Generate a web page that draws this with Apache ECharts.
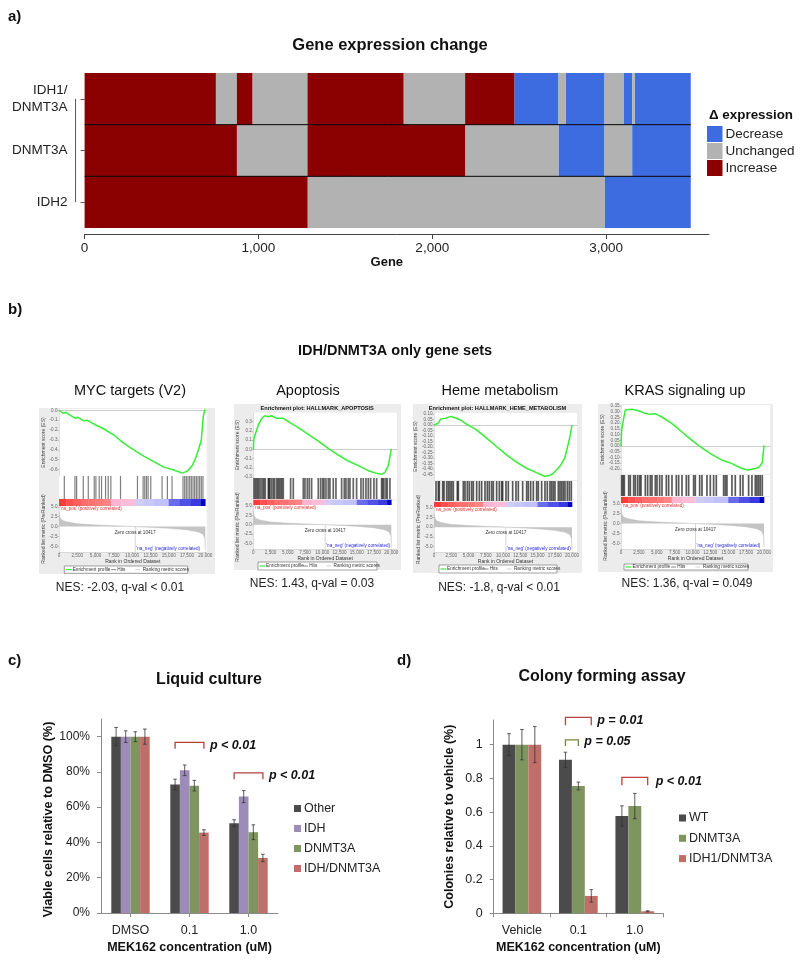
<!DOCTYPE html>
<html><head><meta charset="utf-8">
<style>html,body{margin:0;padding:0;background:#fff}#c{width:800px;height:963px}</style>
<script src="https://cdn.jsdelivr.net/npm/echarts@6/dist/echarts.min.js"></script>
</head><body><div id="c"></div>
<script>
// ---------- a) heat strip ----------
const geneRows = ['IDH1/\nDNMT3A', 'DNMT3A', 'IDH2'];
const geneTicks = [0, 1000, 2000, 3000];
const states = ['Decrease', 'Unchanged', 'Increase'];
const row1Ends = [755, 876, 965, 1280, 1285, 1835, 2189, 2472, 2726, 2767, 2991, 3100, 3150, 3165, 3487];
const row1States = ['Increase','Unchanged','Increase','Unchanged','Decrease','Increase','Unchanged','Increase','Decrease','Unchanged','Decrease','Unchanged','Decrease','Unchanged','Decrease'];
const row2Ends = [876, 1280, 1285, 2189, 2726, 2991, 3150, 3487];
const row2States = ['Increase','Unchanged','Decrease','Increase','Unchanged','Decrease','Unchanged','Decrease'];
const row3Ends = [1283, 2991, 3487];
const row3States = ['Increase','Unchanged','Decrease'];

// ---------- b) GSEA panels ----------
const rankTicks = [0, 2500, 5000, 7500, 10000, 12500, 15000, 17500, 20000];
const rankedRanks = [0, 60, 150, 400, 1000, 2500, 5000, 7500, 10000, 10417, 12500, 15000, 17500, 19000, 19700, 19950, 20000];
const rankedValues = [3.6, 2.8, 2.2, 1.6, 1.2, 0.7, 0.4, 0.2, 0.05, 0, -0.15, -0.4, -0.8, -1.3, -1.9, -3, -6];
const rankedTicks = [5, 2.5, 0, -2.5, -5];
const bandRanks = [0,1000,2000,3000,4000,5000,6000,7100,8500,10400,11500,13000,15000,16500,18000,19400,20000];
const bandColors = ['#ff3a3a','#ff5050','#ff5f5f','#ff6c6c','#ff7070','#ff7a7a','#ff8484','#fbb4d4','#fbbdd8','#d0ccf6','#c8c8f8','#c0c0fa','#6a6aee','#5050e8','#3a3ae0','#0000c0'];

const mycRanks = [0,595,915,1510,2197,2517,3341,3799,4943,6087,7460,8833,10206,11580,12953,14325,15700,16843,17530,18217,18674,19132,19452,19727,19910,20000];
const mycES = [0,-0.03,-0.02,-0.05,-0.08,-0.07,-0.105,-0.10,-0.146,-0.187,-0.248,-0.333,-0.40,-0.463,-0.52,-0.575,-0.605,-0.636,-0.616,-0.56,-0.486,-0.384,-0.30,-0.06,0,0.01];
const mycTicks = [0,-0.1,-0.2,-0.3,-0.4,-0.5,-0.6];
const mycHits = [727,2182,2409,3318,4000,4818,5045,5500,5818,6364,6727,7090,8409,10727,11500,11727,11955,12182,12545,14090,14818,15455,16955,17182,17409,17636,17864,18091,18318,18545,18773,19000,19227,19455,19682];

const apoRanks = [0,97,338,725,1208,1690,2174,2657,3381,4347,5313,6520,7970,9420,10870,12316,13766,15215,16664,17871,18596,19079,19562,19851,20000];
const apoES = [0,0.119,0.173,0.263,0.335,0.363,0.353,0.363,0.335,0.335,0.288,0.234,0.162,0.09,0.011,-0.061,-0.126,-0.176,-0.23,-0.259,-0.27,-0.248,-0.176,-0.162,0.003];
const apoTicks = [0.3,0.2,0.1,0,-0.1,-0.2,-0.3];
const apoHits = [97,290,483,676,869,1111,1352,1546,1739,2174,2270,2415,2657,2898,3091,3381,3574,3767,3961,4154,4347,5410,5796,7245,7487,7825,8114,8453,9419,9757,10046,10240,10529,10868,11109,11592,11978,12800,13186,13427,13766,14007,14490,14973,15601,15939,16325,16664,17002,17485,17871,18596,18740,18934,19223,19417,19803];

const hemeRanks = [0,289,627,964,1590,2410,3037,3760,4724,6170,7616,9060,10508,11954,13400,14846,16050,16774,17256,17738,18220,18942,19425,19762,20000];
const hemeES = [0,-0.003,0.018,0.055,0.061,0.079,0.067,0.049,0.009,-0.043,-0.119,-0.195,-0.271,-0.338,-0.393,-0.433,-0.466,-0.46,-0.439,-0.409,-0.378,-0.302,-0.18,-0.088,0];
const hemeTicks = [0.1,0.05,0,-0.05,-0.1,-0.15,-0.2,-0.25,-0.3,-0.35,-0.4,-0.45];
const hemeHits = [290,628,773,1256,1449,1835,2077,2318,2560,2801,3381,3526,4250,4492,4830,5120,5458,5700,6182,6569,6907,7390,7728,8018,8356,8597,9080,9467,9805,9950,10433,10771,11399,11882,12220,12848,13427,13669,14007,14393,14876,15118,15601,16084,16422,16808,17050,17291,17533,18016,18257,18499,18740,18982,19320,19610,19900];

const krasRanks = [0,93,325,603,835,1531,2459,3387,4083,4779,5707,7099,8491,9883,11275,12667,14059,15451,16843,17771,18467,18931,19395,19766,20000];
const krasES = [0,0.14,0.227,0.315,0.329,0.321,0.309,0.286,0.277,0.283,0.254,0.198,0.125,0.052,-0.015,-0.073,-0.122,-0.152,-0.195,-0.21,-0.201,-0.195,-0.181,-0.143,0.003];
const krasTicks = [0.35,0.3,0.25,0.2,0.15,0.1,0.05,0,-0.05,-0.1,-0.15,-0.2];
const krasHits = [93,280,466,1072,1305,1771,2004,2330,2610,2796,3402,3728,4101,4334,4800,5033,5406,5732,6338,6664,7130,7736,8062,8528,9134,9460,10159,10392,10998,11324,12023,12489,12955,13328,14353,14586,14819,15518,15984,16683,17056,17848,18314,18780,19013,19246,19479,19759];

// ---------- c) liquid culture ----------
const liquidCats = ['DMSO', '0.1', '1.0'];
const liquidNames = ['Other', 'IDH', 'DNMT3A', 'IDH/DNMT3A'];
const liquidOther = [100, 72.9, 50.9];
const liquidIdh = [100, 80.9, 66];
const liquidDnmt = [100, 72.2, 45.8];
const liquidBoth = [100, 45.6, 31.2];
const liquidOtherErr = [5.2, 3, 2];
const liquidIdhErr = [3.3, 3, 3.4];
const liquidDnmtErr = [2.8, 3, 4.2];
const liquidBothErr = [4.3, 1.6, 2.1];
const liquidTicks = [0, 20, 40, 60, 80, 100];

// ---------- d) colony assay ----------
const colonyCats = ['Vehicle', '0.1', '1.0'];
const colonyNames = ['WT', 'DNMT3A', 'IDH1/DNMT3A'];
const colonyWt = [1, 0.91, 0.577];
const colonyDnmt = [1, 0.755, 0.636];
const colonyBoth = [1, 0.103, 0.012];
const colonyWtErr = [0.065, 0.045, 0.06];
const colonyDnmtErr = [0.09, 0.023, 0.075];
const colonyBothErr = [0.107, 0.037, 0.003];
const colonyTicks = [0, 0.2, 0.4, 0.6, 0.8, 1];

// ---------- style ----------
const FONT = '"Liberation Sans", Arial, sans-serif';
const stateColors = {Decrease:'#3d6be0', Unchanged:'#b2b2b2', Increase:'#8b0000'};
const barColors = ['#4b4b4b', '#9c8cb7', '#7f9560', '#bf6f6a'];
const colonyColors = ['#4b4b4b', '#7f9560', '#bf6f6a'];
const GREEN = '#35ee35';
const grids = [], xAxes = [], yAxes = [], series = [], titles = [], legends = [], graphics = [];

function label(text, cx, cy, size, bold, align, color, family) {
  titles.push({text, left:cx, top:cy - size * 0.58, padding:0, textAlign:align || 'center',
    textStyle:{fontFamily:family || FONT, fontSize:size, fontWeight:bold ? 'bold' : 'normal', color:color || '#111', lineHeight:size*1.15}});
}
function addGrid(left, top, width, height, extra) {
  grids.push(Object.assign({left, top, width, height, containLabel:false}, extra || {}));
  return grids.length - 1;
}

// ---------- a) build ----------
label('a)', 8, 17, 15, true, 'left');
label('Gene expression change', 390, 46, 16.5, true);
const heatGrid = addGrid(84.6, 73, 624.4, 155);
xAxes.push({type:'value', gridIndex:heatGrid, min:0, max:3592, offset:6, splitLine:{show:false},
  axisLine:{show:true, onZero:false, lineStyle:{color:'#444', width:1}},
  axisTick:{show:true, customValues:geneTicks, length:5, lineStyle:{color:'#444'}},
  axisLabel:{customValues:geneTicks, fontFamily:FONT, fontSize:13.5, color:'#222', margin:7, formatter:v => v.toLocaleString('en-US')},
  name:'Gene', nameLocation:'middle', nameGap:22, nameTextStyle:{fontFamily:FONT, fontWeight:'bold', fontSize:13, color:'#111', padding:[0,20,0,0]}});
yAxes.push({type:'category', gridIndex:heatGrid, data:geneRows, inverse:true, offset:9, splitLine:{show:false},
  axisLine:{show:false}, axisTick:{show:true, alignWithLabel:true, length:4, lineStyle:{color:'#555'}},
  axisLabel:{fontFamily:FONT, fontSize:13.5, color:'#222', margin:8, align:'right', lineHeight:17}});
const heatAxisIdx = xAxes.length - 1;
function segments(ends, st, row, which) {
  const out = [];
  ends.forEach((e, i) => { if (st[i] === which) out.push([i ? ends[i-1] : 0, e, row]); });
  return out;
}
states.forEach(state => {
  series.push({type:'custom', name:state, xAxisIndex:heatAxisIdx, yAxisIndex:heatAxisIdx,
    itemStyle:{color:stateColors[state]},
    data:[].concat(segments(row1Ends,row1States,0,state), segments(row2Ends,row2States,1,state), segments(row3Ends,row3States,2,state)),
    encode:{x:[0,1], y:2},
    renderItem:(p, api) => {
      const a = api.coord([api.value(0), api.value(2)]), b = api.coord([api.value(1), api.value(2)]);
      const h = api.size([0,1])[1];
      return {type:'rect', shape:{x:a[0], y:a[1]-h/2, width:b[0]-a[0], height:h}, style:{fill:stateColors[state]}};
    }});
});
series.push({type:'custom', name:'rowLines', xAxisIndex:heatAxisIdx, yAxisIndex:heatAxisIdx, z:5, clip:false,
  data:[[0],[1]], encode:{y:0}, silent:true,
  renderItem:(p, api) => {
    const r = api.value(0), h = api.size([0,1])[1];
    const a = api.coord([0, r]), b = api.coord([3487, r]);
    return {type:'line', shape:{x1:a[0], y1:a[1]+h/2, x2:b[0], y2:b[1]+h/2}, style:{stroke:'#000', lineWidth:1}};
  }});
series.push({type:'custom', name:'rowBracket', xAxisIndex:heatAxisIdx, yAxisIndex:heatAxisIdx, clip:false,
  data:[[0]], encode:{y:0}, silent:true,
  renderItem:(p, api) => {
    const a = api.coord([-52, 0]), b = api.coord([-52, 2]);
    return {type:'line', shape:{x1:a[0], y1:a[1], x2:b[0], y2:b[1]}, style:{stroke:'#555', lineWidth:1}};
  }});
label('\u0394 expression', 709, 115, 13.4, true, 'left');
legends.push({data:states, orient:'vertical', left:707, top:126, padding:0, itemWidth:15.5, itemHeight:16, itemGap:1,
  icon:'rect', selectedMode:false, textStyle:{fontFamily:FONT, fontSize:13.5, color:'#222', padding:[0,0,0,-2]}});

// ---------- b) build ----------
label('b)', 8, 310, 15, true, 'left');
label('IDH/DNMT3A only gene sets', 395, 351, 14.5, true);
function panel(c) {
  const W = c.right - c.left, xMax = 20000 * W / (c.end - c.left);
  graphics.push({type:'rect', z:-5, silent:true, shape:{x:c.bg[0], y:c.bg[1], width:c.bg[2]-c.bg[0], height:c.bg[3]-c.bg[1]}, style:{fill:'#ececec'}});
  label(c.name, c.nameX, 391, 14.5, false);
  label(c.nes, c.nesX, c.nesY, 12, false, 'center', '#222');
  if (c.plotTitle) label(c.plotTitle, (c.left + c.right)/2 - 8, c.bg[1] + 4, 5.6, true);
  const white = {show:true, backgroundColor:'#fff', borderWidth:0};
  // ES
  let g = addGrid(c.left, c.es[0], W, c.es[1]-c.es[0], white);
  xAxes.push({type:'value', gridIndex:g, min:0, max:xMax, splitLine:{show:false}, axisLabel:{show:false}, axisTick:{show:false},
    axisLine:{show:true, onZero:true, lineStyle:{color:'#b5b5b5', width:0.7}}});
  yAxes.push({type:'value', gridIndex:g, min:c.esMin, max:c.esMax, splitLine:{show:false},
    axisLine:{show:true, onZero:false, lineStyle:{color:'#ccc', width:0.6}},
    axisTick:{show:true, customValues:c.ticks, length:1.5, lineStyle:{color:'#999', width:0.5}},
    axisLabel:{customValues:c.ticks, fontFamily:FONT, fontSize:4.6, color:'#666', margin:1.5, formatter:v => v.toFixed(c.digits)},
    name:'Enrichment score (ES)', nameLocation:'middle', nameGap:c.nameGap, nameTextStyle:{fontFamily:FONT, fontSize:5, color:'#444'}});
  series.push({type:'line', name:c.name + ' ES', xAxisIndex:xAxes.length-1, yAxisIndex:yAxes.length-1, showSymbol:false, symbol:'none',
    data:c.ranks.map((r,i) => [r, c.es_[i]]), lineStyle:{color:GREEN, width:1.5}, silent:true});
  // hits
  g = addGrid(c.left, c.hit[0], W, c.hit[1]-c.hit[0], white);
  xAxes.push({type:'value', gridIndex:g, min:0, max:xMax, show:false});
  yAxes.push({type:'value', gridIndex:g, min:0, max:1, show:false});
  series.push({type:'custom', name:c.name + ' hits', xAxisIndex:xAxes.length-1, yAxisIndex:yAxes.length-1, silent:true,
    data:c.hits.map(r => [r]), encode:{x:0},
    renderItem:(p, api) => {
      const a = api.coord([api.value(0), 0]), b = api.coord([api.value(0), 1]);
      return {type:'line', shape:{x1:a[0], y1:a[1], x2:b[0], y2:b[1]}, style:{stroke:'#000', lineWidth:c.hitW, opacity:c.hitA}};
    }});
  // colour band
  g = addGrid(c.left, c.band[0], W, c.band[1]-c.band[0], white);
  xAxes.push({type:'value', gridIndex:g, min:0, max:xMax, show:false});
  yAxes.push({type:'value', gridIndex:g, min:0, max:1, show:false});
  series.push({type:'custom', name:c.name + ' band', xAxisIndex:xAxes.length-1, yAxisIndex:yAxes.length-1, silent:true,
    data:bandColors.map((col,i) => [bandRanks[i], bandRanks[i+1], i]), encode:{x:[0,1]},
    renderItem:(p, api) => {
      const a = api.coord([api.value(0), 1]), b = api.coord([api.value(1), 0]);
      return {type:'rect', shape:{x:a[0], y:a[1], width:b[0]-a[0]+0.3, height:b[1]-a[1]}, style:{fill:bandColors[api.value(2)]}};
    }});
  // ranked metric
  g = addGrid(c.left, c.rank[0], W, c.rank[1]-c.rank[0], white);
  xAxes.push({type:'value', gridIndex:g, min:0, max:xMax, splitLine:{show:false},
    axisLine:{show:true, onZero:false, lineStyle:{color:'#ccc', width:0.6}},
    axisTick:{show:true, customValues:rankTicks, length:1.5, lineStyle:{color:'#999', width:0.5}},
    axisLabel:{customValues:rankTicks, fontFamily:FONT, fontSize:4.6, color:'#666', margin:1.5, formatter:v => v.toLocaleString('en-US')},
    name:'Rank in Ordered Dataset', nameLocation:'middle', nameGap:7.5, nameTextStyle:{fontFamily:FONT, fontSize:5, color:'#333'}});
  yAxes.push({type:'value', gridIndex:g, min:-6.4, max:5.2, splitLine:{show:false},
    axisLine:{show:true, onZero:false, lineStyle:{color:'#ccc', width:0.6}},
    axisTick:{show:true, customValues:rankedTicks, length:1.5, lineStyle:{color:'#999', width:0.5}},
    axisLabel:{customValues:rankedTicks, fontFamily:FONT, fontSize:4.6, color:'#666', margin:1.5, formatter:v => v.toFixed(1)},
    name:'Ranked list metric (PreRanked)', nameLocation:'middle', nameGap:c.nameGap, nameTextStyle:{fontFamily:FONT, fontSize:5, color:'#444'}});
  const xi = xAxes.length-1, yi = yAxes.length-1;
  series.push({type:'line', name:c.name + ' ranked', xAxisIndex:xi, yAxisIndex:yi, showSymbol:false, symbol:'none', silent:true,
    data:rankedRanks.map((r,i) => [r, rankedValues[i]]), lineStyle:{color:'#bdbdbd', width:0.6}, areaStyle:{color:'#c4c4c4', opacity:1}});
  series.push({type:'custom', name:c.name + ' notes', xAxisIndex:xi, yAxisIndex:yi, silent:true, clip:false, z:6, data:[[10417]], encode:{x:0},
    renderItem:(p, api) => {
      const z0 = api.coord([10417, 0]), z1 = api.coord([10417, -6.4]);
      const pos = api.coord([150, 4.4]), neg = api.coord([10570, -5.6]);
      const t = (text, pt, col, al) => ({type:'text', x:pt[0], y:pt[1], style:{text, fill:col, font:'4.6px ' + FONT, textAlign:al, textVerticalAlign:'middle'}});
      return {type:'group', children:[
        {type:'line', shape:{x1:z0[0], y1:z0[1], x2:z1[0], y2:z1[1]}, style:{stroke:'#aaa', lineWidth:0.5}},
        t('Zero cross at 10417', [z0[0], z0[1]+6], '#333', 'center'),
        t("'na_pos' (positively correlated)", pos, '#e03030', 'left'),
        t("'na_neg' (negatively correlated)", neg, '#2a2ae0', 'left')
      ]};
    }});
  // legend box
  const [bx0, by0, bx1, by1] = c.box, bw = bx1-bx0, my = (by0+by1)/2;
  const bt = (text, f) => ({type:'text', silent:true, style:{x:bx0+bw*f, y:my, text, fill:'#333', font:'4.7px ' + FONT, textVerticalAlign:'middle'}});
  const bl = (f0, f1, col, w) => ({type:'line', silent:true, shape:{x1:bx0+bw*f0, y1:my, x2:bx0+bw*f1, y2:my}, style:{stroke:col, lineWidth:w}});
  graphics.push({type:'rect', silent:true, shape:{x:bx0, y:by0, width:bw, height:by1-by0}, style:{fill:'#fff', stroke:'#666', lineWidth:0.6}},
    bl(0.013,0.06,GREEN,1.2), bt('Enrichment profile',0.068), bl(0.38,0.42,'#333',0.6), bt('Hits',0.43), bl(0.575,0.615,'#bbb',0.6), bt('Ranking metric scores',0.635));
}
panel({name:'MYC targets (V2)', nameX:130, nes:'NES: -2.03, q-val < 0.01', nesX:120, nesY:588, bg:[39,408,215,574],
  left:59, right:206.7, end:205.3, es:[409,476], esMin:-0.665, esMax:0.013, hit:[476,499], band:[499,506], rank:[506,552],
  ranks:mycRanks, es_:mycES, ticks:mycTicks, digits:1, hits:mycHits, hitW:1.2, hitA:0.5, nameGap:12, box:[64.3,566,187.7,573.3]});
panel({name:'Apoptosis', nameX:308, nes:'NES: 1.43, q-val = 0.03', nesX:312, nesY:584, bg:[234,404,401,570], plotTitle:'Enrichment plot: HALLMARK_APOPTOSIS',
  left:253.3, right:397, end:391.3, es:[412.7,477.7], esMin:-0.306, esMax:0.396, hit:[478,499], band:[499.7,505], rank:[505,549],
  ranks:apoRanks, es_:apoES, ticks:apoTicks, digits:1, hits:apoHits, hitW:1.7, hitA:0.6, nameGap:12, box:[258,562,377,570]});
panel({name:'Heme metabolism', nameX:500, nes:'NES: -1.8, q-val < 0.01', nesX:499, nesY:588, bg:[413,404,582,573], plotTitle:'Enrichment plot: HALLMARK_HEME_METABOLISM',
  left:434, right:577, end:572, es:[413,480], esMin:-0.5, esMax:0.11, hit:[481,501], band:[502,507], rank:[507,552],
  ranks:hemeRanks, es_:hemeES, ticks:hemeTicks, digits:2, hits:hemeHits, hitW:1.7, hitA:0.65, nameGap:13, box:[439,565,557,573]});
panel({name:'KRAS signaling up', nameX:685, nes:'NES: 1.36, q-val = 0.049', nesX:687, nesY:584, bg:[598,404,773,572],
  left:621, right:770, end:764, es:[405,474], esMin:-0.245, esMax:0.359, hit:[475,496], band:[497,503], rank:[503,549],
  ranks:krasRanks, es_:krasES, ticks:krasTicks, digits:2, hits:krasHits, hitW:1.7, hitA:0.65, nameGap:13, box:[624,564,748,570]});

// ---------- c) & d) shared ----------
function barChart(c) {
  const g = addGrid(c.left, c.top, c.width, c.height);
  xAxes.push({type:'category', gridIndex:g, data:c.cats, splitLine:{show:false},
    axisLine:{lineStyle:{color:'#8a8a8a', width:1}}, axisTick:{show:true, alignWithLabel:c.alignTicks, length:4, lineStyle:{color:'#8a8a8a'}},
    axisLabel:{fontFamily:FONT, fontSize:12.5, color:'#222', margin:11},
    name:'MEK162 concentration (uM)', nameLocation:'middle', nameGap:28, nameTextStyle:{fontFamily:FONT, fontWeight:'bold', fontSize:12.5, color:'#111', verticalAlign:'top'}});
  yAxes.push({type:'value', gridIndex:g, min:0, max:c.max, splitLine:{show:false},
    axisLine:{show:true, onZero:false, lineStyle:{color:'#8a8a8a', width:1}},
    axisTick:{show:true, customValues:c.ticks, length:4, lineStyle:{color:'#8a8a8a'}},
    axisLabel:{customValues:c.ticks, fontFamily:FONT, fontSize:c.yFont, color:'#222', margin:11, formatter:c.fmt},
    name:c.yName, nameLocation:'middle', nameGap:c.yGap, nameTextStyle:{fontFamily:FONT, fontWeight:'bold', fontSize:c.yNameFont, color:'#111', padding:c.yNamePad}});
  const xi = xAxes.length-1, yi = yAxes.length-1, n = c.names.length;
  c.names.forEach((name, s) => {
    series.push({type:'bar', name, xAxisIndex:xi, yAxisIndex:yi, data:c.values[s], barWidth:c.barW, barGap:0,
      itemStyle:{color:c.colors[s]}, silent:true});
    series.push({type:'custom', name:name + ' error', xAxisIndex:xi, yAxisIndex:yi, silent:true, z:4, clip:false,
      data:c.values[s].map((v,i) => [i, v, c.errs[s][i]]), encode:{x:0, y:[1]},
      renderItem:(p, api) => {
        const i = api.value(0), v = api.value(1), e = api.value(2);
        const off = (s - (n-1)/2) * c.barW;
        const hi = api.coord([i, v+e]), lo = api.coord([i, v-e]);
        const x = hi[0] + off, cap = 1.8, st = {stroke:'#333', lineWidth:0.8};
        return {type:'group', children:[
          {type:'line', shape:{x1:x, y1:hi[1], x2:x, y2:lo[1]}, style:st},
          {type:'line', shape:{x1:x-cap, y1:hi[1], x2:x+cap, y2:hi[1]}, style:st},
          {type:'line', shape:{x1:x-cap, y1:lo[1], x2:x+cap, y2:lo[1]}, style:st}]};
      }});
  });
  series.push({type:'custom', name:c.yName + ' brackets', xAxisIndex:xi, yAxisIndex:yi, silent:true, clip:false, z:5,
    data:c.brackets.map((b,i) => [b.cat, b.y, i]), encode:{x:0, y:1},
    renderItem:(p, api) => {
      const b = c.brackets[api.value(2)];
      const top = api.coord([b.cat, b.y]), bot = api.coord([b.cat, b.y - b.drop]);
      const x0 = top[0] + (b.from - (n-1)/2) * c.barW, x1 = top[0] + (b.to - (n-1)/2) * c.barW;
      return {type:'group', children:[
        {type:'polyline', shape:{points:[[x0,bot[1]],[x0,top[1]],[x1,top[1]],[x1,bot[1]]]}, style:{stroke:b.color, lineWidth:1.3, fill:null}},
        {type:'text', x:x1 + b.dx, y:top[1] + b.dy, style:{text:b.text, fill:'#111', font:'italic bold 12.5px ' + FONT, textVerticalAlign:'middle'}}]};
    }});
  legends.push({data:c.names, orient:'vertical', left:c.legendX, top:c.legendY, padding:0, itemWidth:7, itemHeight:7, itemGap:c.legendGap,
    icon:'rect', selectedMode:false, textStyle:{fontFamily:FONT, fontSize:12.5, color:'#222', padding:[0,0,0,-2]}});
}
label('c)', 8, 661, 15, true, 'left');
label('Liquid culture', 209, 680, 16, true);
barChart({left:101, top:719, width:177, height:194, cats:liquidCats, names:liquidNames, max:110, ticks:liquidTicks, fmt:'{value}%', yFont:12,
  values:[liquidOther, liquidIdh, liquidDnmt, liquidBoth], errs:[liquidOtherErr, liquidIdhErr, liquidDnmtErr, liquidBothErr],
  colors:barColors, barW:9.6, alignTicks:true, yName:'Viable cells relative to DMSO (%)', yGap:45, yNameFont:12.6, yNamePad:[0,7,0,0],
  brackets:[{cat:1, y:96.8, drop:3.6, from:0, to:3, color:'#b5423e', text:'p < 0.01', dx:6, dy:3},
            {cat:2, y:79.4, drop:3.6, from:0, to:3, color:'#b5423e', text:'p < 0.01', dx:6, dy:3}],
  legendX:294, legendY:802, legendGap:7});
label('d)', 397, 661, 15, true, 'left');
label('Colony forming assay', 602, 677, 16, true);
barChart({left:493.7, top:720, width:169.3, height:193.3, cats:colonyCats, names:colonyNames, max:1.146, ticks:colonyTicks, fmt:v => String(v), yFont:12.5,
  values:[colonyWt, colonyDnmt, colonyBoth], errs:[colonyWtErr, colonyDnmtErr, colonyBothErr],
  colors:colonyColors, barW:12.9, alignTicks:false, yName:'Colonies relative to vehicle (%)', yGap:38, yNameFont:12.5, yNamePad:[0,0,0,0],
  brackets:[{cat:1, y:1.162, drop:0.047, from:0, to:2, color:'#b5423e', text:'p = 0.01', dx:6, dy:3},
            {cat:1, y:1.028, drop:0.036, from:0, to:1, color:'#6f8a3c', text:'p = 0.05', dx:6, dy:2},
            {cat:2, y:0.806, drop:0.047, from:0, to:2, color:'#c0403c', text:'p < 0.01', dx:8, dy:4}],
  legendX:679, legendY:811.5, legendGap:7.3});

const chart = echarts.init(document.getElementById('c'), null, {renderer:'canvas'});
chart.setOption({animation:false, backgroundColor:'#fff', tooltip:{show:false}, title:titles, legend:legends,
  grid:grids, xAxis:xAxes, yAxis:yAxes, series, graphic:{elements:graphics}});
</script></body></html>
